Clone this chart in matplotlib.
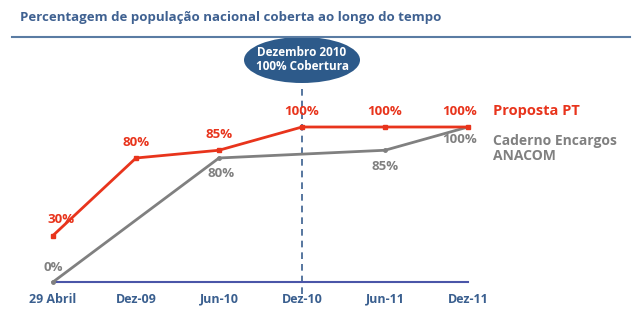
import matplotlib.pyplot as plt
from matplotlib.patches import Ellipse

periodos = ["29 Abril", "Dez-09", "Jun-10", "Dez-10", "Jun-11", "Dez-11"]
proposta_pt = [30, 80, 85, 100, 100, 100]
caderno_anacom = [0, None, 80, None, 85, 100]

vermelho = "#e8341c"
cinza = "#808080"
azul = "#3a5f8f"

plt.rcParams['font.family'] = ['Open Sans', 'DejaVu Sans']
plt.rcParams['font.weight'] = 'bold'

fig = plt.figure(figsize=(6.34, 3.26), dpi=100)
W, H = 634, 326
ax = fig.add_axes([53 / W, (H - 282) / H, 415 / W, 155 / H])
ax.set_xlim(0, 5)
ax.set_ylim(0, 100)
ax.axis('off')

x = list(range(len(periodos)))

# linha do caderno de encargos (só os pontos definidos)
xc = [i for i, v in zip(x, caderno_anacom) if v is not None]
yc = [v for v in caderno_anacom if v is not None]
ax.plot(xc, yc, color=cinza, lw=2, marker='o', ms=2.5, clip_on=False, zorder=3)
ax.plot(x, proposta_pt, color=vermelho, lw=2, marker='s', ms=3.5, clip_on=False, zorder=4)

# eixo horizontal
ax.plot([0, 5], [0, 0], color="#4a55a8", lw=1.5, clip_on=False, zorder=2)

# linha tracejada em Dez-10
ax.plot([3, 3], [-8, 126], color=azul, lw=1.2, ls=(0, (4, 3)), clip_on=False, zorder=1)

# etiquetas da proposta PT
desloc_pt = [(0.1, 6), (0, 6), (0, 6), (0, 6), (0, 6), (-0.1, 6)]
for i, v in enumerate(proposta_pt):
    dx, dy = desloc_pt[i]
    ax.text(i + dx, v + dy, f"{v}%", color=vermelho, fontsize=9.5, ha='center', va='bottom',
            clip_on=False)

# etiquetas do caderno de encargos
desloc_cad = {0: (0.0, 5, 'bottom'), 2: (0.03, -6, 'top'), 4: (0, -6, 'top'), 5: (-0.1, -4, 'top')}
for i, v in enumerate(caderno_anacom):
    if v is None:
        continue
    dx, dy, va = desloc_cad[i]
    ax.text(i + dx, v + dy, f"{v}%", color=cinza, fontsize=9.5, ha='center', va=va,
            clip_on=False)

# rótulos do eixo
for i, p in enumerate(periodos):
    ax.text(i, -7, p, color=azul, fontsize=9, ha='center', va='top', clip_on=False)

# legenda
ax.text(5.3, 110, "Proposta PT", color=vermelho, fontsize=10.5, ha='left', va='center',
        clip_on=False)
ax.text(5.3, 86, "Caderno Encargos\nANACOM", color=cinza, fontsize=10, ha='left',
        va='center', linespacing=1.05, clip_on=False)

# balão Dezembro 2010
bal = Ellipse((302 / W, 1 - 60 / H), 116 / W, 46 / H, transform=fig.transFigure,
              facecolor="#2d5a8a", edgecolor='none')
fig.patches.append(bal)
fig.text(302 / W, 1 - 60 / H, "Dezembro 2010\n100% Cobertura", color='white', fontsize=8.5,
         ha='center', va='center', linespacing=1.1)

# título
fig.text(20 / W, 1 - 17 / H, "Percentagem de população nacional coberta ao longo do tempo",
         color="#3f6191", fontsize=9.5, fontweight='bold', ha='left', va='center')
fig.add_artist(plt.Line2D([12 / W, 630 / W], [1 - 37 / H, 1 - 37 / H],
                          transform=fig.transFigure, color="#5a7ca3", lw=1.5))

fig.savefig("out.png", dpi=100)
